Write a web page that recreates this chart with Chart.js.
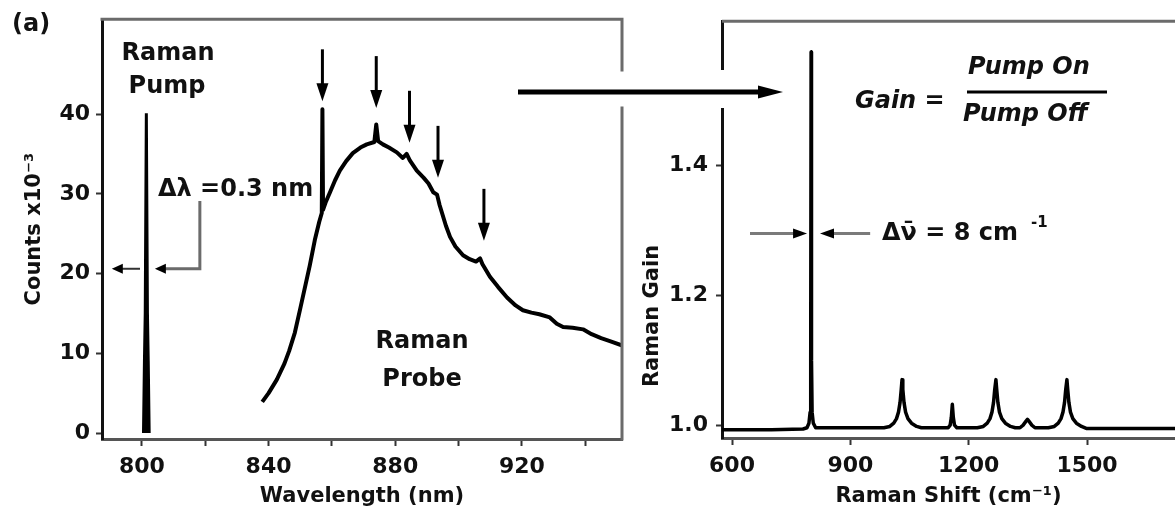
<!DOCTYPE html>
<html><head><meta charset="utf-8">
<script src="https://cdn.jsdelivr.net/npm/chart.js@4.4.1/dist/chart.umd.min.js"></script>
<style>
html,body{margin:0;padding:0;background:#fff;}
#wrap{position:relative;width:1175px;height:513px;overflow:hidden;background:#fff;}
canvas{position:absolute;top:0;}
#left{left:0;}
#right{left:500px;}
</style></head><body>
<div id="wrap"><canvas id="left" width="660" height="513"></canvas><canvas id="right" width="675" height="513"></canvas></div>
<script>
// ---------- data ----------
const pumpWavelength = [800.5, 800.8, 801.05, 801.4, 801.75, 802.0, 802.3];
const pumpCounts     = [0, 9, 15, 40.1, 15, 9, 0];

const probeWavelength = [838, 840, 842.6, 845, 846.5, 848.3, 850, 851.5, 853, 854.6, 856, 856.8, 857.0, 857.2, 858, 859.4, 861, 862.5, 864.5, 866.6, 869, 871, 873.4, 874.0, 874.6, 876.1, 878, 880.5, 882.4, 883.6, 884.6, 886.8, 889, 890.5, 892, 893.2, 894, 896, 897.3, 899, 901.4, 903.5, 905.5, 906.8, 907.5, 909.9, 912.5, 915.3, 918, 920.3, 923, 925.5, 928.8, 931, 933, 936, 939.3, 942, 945, 948, 951.5];
const probeCounts     = [3.9, 5.0, 6.7, 8.7, 10.3, 12.6, 15.6, 18.3, 21.0, 24.2, 26.5, 27.6, 40.6, 28.0, 28.9, 30.2, 31.7, 32.9, 34.1, 35.1, 35.8, 36.2, 36.5, 38.7, 36.6, 36.2, 35.8, 35.2, 34.5, 35.0, 34.2, 32.9, 32.0, 31.3, 30.2, 29.9, 28.6, 26.0, 24.6, 23.4, 22.3, 21.8, 21.5, 21.9, 21.2, 19.6, 18.3, 17.0, 16.0, 15.4, 15.1, 14.9, 14.5, 13.7, 13.3, 13.2, 13.0, 12.4, 11.9, 11.5, 11.0];

const ramanShift = [575, 700, 780, 790, 795, 798, 799.5, 800.5, 801.5, 803, 806, 812, 900,
  985, 1000, 1010, 1017, 1022, 1026, 1029, 1031, 1033, 1036, 1040, 1046, 1055, 1068, 1080,
  1140, 1148, 1153, 1156, 1158.5, 1161, 1164, 1170,
  1222, 1237, 1247, 1254, 1259, 1263, 1266, 1269, 1271, 1274, 1278, 1284, 1293, 1306, 1318,
  1330, 1338, 1344, 1349, 1354, 1360, 1368,
  1402, 1417, 1427, 1434, 1439, 1443, 1446, 1449, 1451, 1454, 1458, 1464, 1473, 1486, 1498, 1600, 1723];
const ramanGain = [0.993, 0.993, 0.994, 0.996, 1.003, 1.02, 1.1, 1.574, 1.1, 1.02, 1.003, 0.996, 0.996,
  0.996, 0.998, 1.003, 1.010, 1.020, 1.035, 1.055, 1.070, 1.055, 1.035, 1.020, 1.010, 1.003, 0.998, 0.996,
  0.996, 0.996, 1.000, 1.012, 1.032, 1.012, 1.000, 0.996,
  0.996, 0.998, 1.003, 1.010, 1.020, 1.035, 1.055, 1.070, 1.055, 1.035, 1.020, 1.010, 1.003, 0.998, 0.996,
  0.996, 1.000, 1.005, 1.009, 1.005, 1.000, 0.996,
  0.996, 0.998, 1.003, 1.010, 1.020, 1.035, 1.055, 1.070, 1.055, 1.035, 1.020, 1.010, 1.003, 0.998, 0.995, 0.995, 0.995];

// axis ranges and ticks
const wavelengthRange = [787.4, 951.6];
const countsRange = [-0.75, 51.9];
const wavelengthTicks = [800, 820, 840, 860, 880, 900, 920, 940];
const wavelengthLabels = [800, 840, 880, 920];
const countsTicks = [0, 10, 20, 30, 40];
const shiftRange = [574.6, 1723];
const gainRange = [0.9802, 1.6214];
const shiftTicks = [600, 900, 1200, 1500];
const gainTicks = [1.0, 1.2, 1.4];

// annotation anchors (values)
const probeMarkerWavelengths = [857, 874, 884.5, 893.5, 908];
const probeMarkerTipCounts   = [41.6, 40.75, 36.4, 32.0, 24.1];

// ---------- drawing ----------
const FONT = '"DejaVu Sans", sans-serif';
Chart.defaults.font.family = FONT;
Chart.defaults.color = '#111';
const toPoints = (xs, ys) => xs.map((x, i) => ({x, y: ys[i]}));

function seg(ctx, pts, color, w) {
  ctx.strokeStyle = color; ctx.lineWidth = w; ctx.beginPath();
  ctx.moveTo(pts[0][0], pts[0][1]);
  for (let i = 1; i < pts.length; i++) ctx.lineTo(pts[i][0], pts[i][1]);
  ctx.stroke();
}
function head(ctx, tx, ty, dir, len, half) {
  ctx.fillStyle = '#000'; ctx.beginPath();
  if (dir === 'left') { ctx.moveTo(tx, ty); ctx.lineTo(tx + len, ty - half); ctx.lineTo(tx + len, ty + half); }
  if (dir === 'right') { ctx.moveTo(tx, ty); ctx.lineTo(tx - len, ty - half); ctx.lineTo(tx - len, ty + half); }
  if (dir === 'down') { ctx.moveTo(tx, ty); ctx.lineTo(tx - half, ty - len); ctx.lineTo(tx + half, ty - len); }
  ctx.closePath(); ctx.fill();
}

const leftDecor = {
  id: 'leftDecor',
  afterDraw(chart) {
    const {ctx, chartArea: a, scales: {x, y}} = chart;
    ctx.save();
    ctx.lineCap = 'square';
    seg(ctx, [[a.left, a.top], [a.right, a.top], [a.right, 70]], '#6b6b6b', 3);
    seg(ctx, [[a.right, 108], [a.right, a.bottom]], '#6b6b6b', 3);
    ctx.lineCap = 'butt';
    probeMarkerWavelengths.forEach((w, i) => {
      const px = x.getPixelForValue(w), ty = y.getPixelForValue(probeMarkerTipCounts[i]);
      seg(ctx, [[px, ty - 52], [px, ty - 14]], '#000', 3);
      head(ctx, px, ty, 'down', 18, 6);
    });
    const ym = y.getPixelForValue(20.6);
    seg(ctx, [[x.getPixelForValue(799.4), ym], [x.getPixelForValue(793), ym]], '#333', 2);
    head(ctx, x.getPixelForValue(790.5), ym, 'left', 11, 5);
    seg(ctx, [[x.getPixelForValue(818.3), y.getPixelForValue(29.1)], [x.getPixelForValue(818.3), ym], [x.getPixelForValue(807), ym]], '#6b6b6b', 3);
    head(ctx, x.getPixelForValue(804.1), ym, 'left', 11, 5);
    ctx.fillStyle = '#111';
    ctx.textBaseline = 'alphabetic';
    ctx.font = 'bold 24px ' + FONT;
    ctx.textAlign = 'left';
    ctx.fillText('(a)', 12, 31);
    ctx.fillText('Δλ =0.3 nm', 158, 196);
    ctx.textAlign = 'center';
    ctx.fillText('Raman', 168, 60);
    ctx.fillText('Pump', 167, 93);
    ctx.fillText('Raman', 422, 348);
    ctx.fillText('Probe', 422, 386);
    ctx.restore();
  }
};

const OFF = 500;
const rightDecor = {
  id: 'rightDecor',
  afterDraw(chart) {
    const {ctx, chartArea: a, scales: {x, y}} = chart;
    ctx.save();
    seg(ctx, [[a.left, a.top], [chart.width, a.top]], '#6b6b6b', 3);
    ctx.fillStyle = '#fff'; ctx.fillRect(a.left - 3, 70, 7, 38);
    seg(ctx, [[518 - OFF, 92], [760 - OFF, 92]], '#000', 5);
    head(ctx, 783 - OFF, 92, 'right', 25, 6.5);
    const ym = y.getPixelForValue(1.2947);
    seg(ctx, [[x.getPixelForValue(645.6), ym], [x.getPixelForValue(770), ym]], '#7a7a7a', 3);
    head(ctx, x.getPixelForValue(790.2), ym, 'right', 14, 5);
    seg(ctx, [[x.getPixelForValue(845), ym], [x.getPixelForValue(950.2), ym]], '#7a7a7a', 3);
    head(ctx, x.getPixelForValue(823.1), ym, 'left', 14, 5);
    ctx.fillStyle = '#111';
    ctx.textBaseline = 'alphabetic';
    ctx.textAlign = 'left';
    ctx.font = 'italic bold 24px ' + FONT;
    ctx.fillText('Gain =', 855 - OFF, 108);
    ctx.fillText('Pump On', 968 - OFF, 74);
    ctx.fillText('Pump Off', 963 - OFF, 121);
    seg(ctx, [[967 - OFF, 92], [1107 - OFF, 92]], '#000', 3);
    ctx.font = 'bold 24px ' + FONT;
    ctx.fillText('Δν\u0304 = 8 cm', 882 - OFF, 240);
    ctx.font = 'bold 15px ' + FONT;
    ctx.fillText('-1', 1031 - OFF, 227);
    ctx.font = 'bold 21px ' + FONT;
    ctx.translate(653 - OFF, 316);
    ctx.rotate(-Math.PI / 2);
    ctx.textAlign = 'center'; ctx.textBaseline = 'middle';
    ctx.fillText('Raman Gain', 0, 0);
    ctx.restore();
  }
};

const tickFont = {size: 22, weight: 'bold'};
const titleFont = {size: 21, weight: 'bold'};

new Chart(document.getElementById('left'), {
  type: 'scatter',
  data: {datasets: [
    {label: 'Raman Pump', data: toPoints(pumpWavelength, pumpCounts), showLine: true, borderColor: '#000', borderWidth: 3, pointRadius: 0, tension: 0, fill: 'origin', backgroundColor: '#000'},
    {label: 'Raman Probe', data: toPoints(probeWavelength, probeCounts), showLine: true, borderColor: '#000', borderWidth: 4, pointRadius: 0, tension: 0, borderJoinStyle: 'round', fill: false}
  ]},
  options: {
    responsive: false, animation: false, events: [],
    layout: {padding: {left: 0, right: 38, top: 18, bottom: 0}},
    plugins: {legend: {display: false}, tooltip: {enabled: false}},
    scales: {
      x: {type: 'linear', position: 'bottom', min: wavelengthRange[0], max: wavelengthRange[1],
        afterBuildTicks: s => { s.ticks = wavelengthTicks.map(v => ({value: v})); },
        afterFit: s => { s.height = 74; },
        ticks: {autoSkip: false, maxRotation: 0, padding: 8, font: tickFont, color: '#111',
          callback: v => wavelengthLabels.includes(v) ? String(v) : ''},
        grid: {drawOnChartArea: false, tickLength: 7, tickWidth: 2, tickColor: '#333'},
        border: {color: '#555', width: 3},
        title: {display: true, text: 'Wavelength (nm)', font: titleFont, color: '#111', padding: {top: 0, bottom: 4}}},
      y: {type: 'linear', position: 'left', min: countsRange[0], max: countsRange[1],
        afterBuildTicks: s => { s.ticks = countsTicks.map(v => ({value: v})); },
        afterFit: s => { s.width = 102; },
        ticks: {padding: 6, font: tickFont, color: '#111', callback: v => String(v)},
        grid: {drawOnChartArea: false, tickLength: 6, tickWidth: 2, tickColor: '#333'},
        border: {color: '#111', width: 3},
        title: {display: true, text: 'Counts x10⁻³', font: titleFont, color: '#111', padding: {top: 22, bottom: 0}}}
    }
  },
  plugins: [leftDecor]
});

new Chart(document.getElementById('right'), {
  type: 'scatter',
  data: {datasets: [
    {label: 'Raman Gain', data: toPoints(ramanShift, ramanGain), showLine: true, borderColor: '#000', borderWidth: 3.5, pointRadius: 0, tension: 0, borderJoinStyle: 'round'}
  ]},
  options: {
    responsive: false, animation: false, events: [],
    layout: {padding: {left: 0, right: 0, top: 18, bottom: 0}},
    plugins: {legend: {display: false}, tooltip: {enabled: false}},
    scales: {
      x: {type: 'linear', position: 'bottom', min: shiftRange[0], max: shiftRange[1],
        afterBuildTicks: s => { s.ticks = shiftTicks.map(v => ({value: v})); },
        afterFit: s => { s.height = 75; },
        ticks: {autoSkip: false, maxRotation: 0, padding: 8, font: tickFont, color: '#111', callback: v => String(v)},
        grid: {drawOnChartArea: false, tickLength: 7, tickWidth: 2, tickColor: '#333'},
        border: {color: '#555', width: 3},
        title: {display: true, text: 'Raman Shift (cm⁻¹)', font: titleFont, color: '#111', padding: {top: 0, bottom: 4}}},
      y: {type: 'linear', position: 'left', min: gainRange[0], max: gainRange[1],
        afterBuildTicks: s => { s.ticks = gainTicks.map(v => ({value: v})); },
        afterFit: s => { s.width = 222; },
        ticks: {padding: 8, font: tickFont, color: '#111', callback: v => Number(v).toFixed(1)},
        grid: {drawOnChartArea: false, tickLength: 6, tickWidth: 2, tickColor: '#333'},
        border: {color: '#111', width: 3},
        title: {display: false}}
    }
  },
  plugins: [rightDecor]
});
</script></body></html>
